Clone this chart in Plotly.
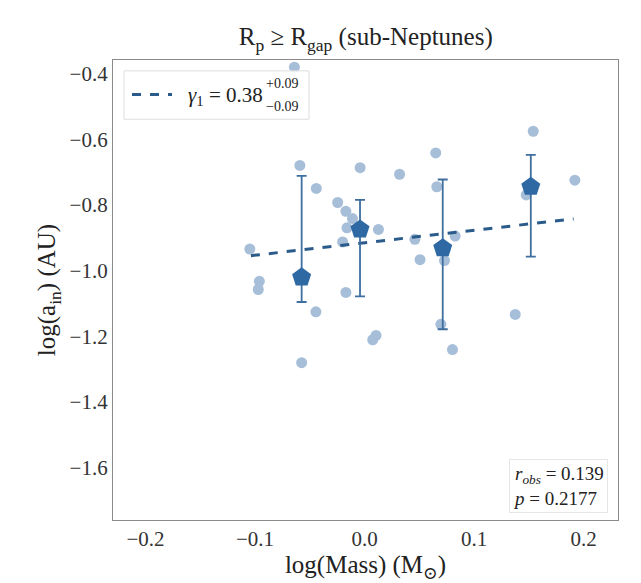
import plotly.graph_objects as go

# individual systems
mass_log = [-0.064, -0.059, -0.044, -0.0245, -0.017, -0.011, -0.016, -0.020, -0.004, 0.0127,
            0.032, 0.065, 0.066, 0.046, 0.0507, 0.0827, 0.073, 0.154, 0.192, 0.1476,
            -0.1047, -0.096, -0.097, -0.017, -0.0444, 0.1376, 0.0697, 0.0105, 0.0075, 0.0803,
            -0.0574]
ain_log = [-0.380, -0.679, -0.749, -0.792, -0.819, -0.841, -0.869, -0.912, -0.686, -0.874,
           -0.706, -0.641, -0.744, -0.904, -0.966, -0.894, -0.969, -0.575, -0.724, -0.769,
           -0.934, -1.032, -1.057, -1.066, -1.125, -1.133, -1.163, -1.197, -1.210, -1.240,
           -1.280]

# binned means
bin_x = [-0.0574, -0.0041, 0.0714, 0.1518]
bin_y = [-1.020, -0.874, -0.931, -0.744]
bin_err_plus = [0.309, 0.090, 0.209, 0.097]
bin_err_minus = [0.075, 0.204, 0.247, 0.213]

# fitted relation (gamma_1 = 0.38)
fit_x = [-0.1037, 0.1909]
fit_y = [-0.954, -0.842]

x_ticks = [-0.2, -0.1, 0.0, 0.1, 0.2]
y_ticks = [-1.6, -1.4, -1.2, -1.0, -0.8, -0.6, -0.4]

SERIF = "Liberation Serif, Times New Roman, DejaVu Serif, serif"
PT_COL = "#a7bed8"
BIN_COL = "#2f69a3"
ERR_COL = "#3e6f9f"
FIT_COL = "#2b5b8b"

fig = go.Figure()
fig.add_trace(go.Scatter(x=mass_log, y=ain_log, mode="markers",
                         marker=dict(size=11, color=PT_COL, line=dict(width=0)),
                         showlegend=False))
fig.add_trace(go.Scatter(x=fit_x, y=fit_y, mode="lines",
                         line=dict(color=FIT_COL, width=3, dash="dash"),
                         showlegend=False))
fig.add_trace(go.Scatter(x=bin_x, y=bin_y, mode="markers",
                         marker=dict(symbol="pentagon", size=20, color=BIN_COL, line=dict(width=0)),
                         error_y=dict(type="data", symmetric=False, array=bin_err_plus,
                                      arrayminus=bin_err_minus, color=ERR_COL,
                                      thickness=1.8, width=5),
                         showlegend=False))

fig.update_layout(
    width=641, height=583,
    margin=dict(l=113, r=23, t=60, b=57),
    paper_bgcolor="white", plot_bgcolor="white",
    font=dict(family=SERIF, size=20, color="#222"),
    title=dict(text="R<sub>p</sub> ≥ R<sub>gap</sub> (sub-Neptunes)",
               x=0.5706, xanchor="center", y=0.937, yanchor="middle",
               font=dict(family=SERIF, size=25, color="#222")),
    xaxis=dict(range=[-0.2296, 0.2314], tickvals=x_ticks, tickformat=".1f",
               showgrid=False, zeroline=False, showline=True, mirror=True,
               linecolor="#8a8a8a", linewidth=1.2, ticks="",
               tickfont=dict(family=SERIF, size=21, color="#333"),
               title=dict(text="log(Mass) (M<sub>⊙</sub>)", standoff=2,
                          font=dict(family=SERIF, size=25, color="#222"))),
    yaxis=dict(range=[-1.759, -0.358], tickvals=y_ticks, tickformat=".1f",
               showgrid=False, zeroline=False, showline=True, mirror=True,
               linecolor="#8a8a8a", linewidth=1.2, ticks="",
               tickfont=dict(family=SERIF, size=21, color="#333"),
               title=dict(text="log(a<sub>in</sub>) (AU)", standoff=6,
                          font=dict(family=SERIF, size=25, color="#222"))),
)

# legend box (drawn manually to allow stacked super/subscripts)
fig.add_shape(type="rect", xref="paper", yref="paper",
              x0=(124 - 113) / 505, x1=(309 - 113) / 505,
              y0=(526 - 120) / 466, y1=(526 - 71) / 466,
              line=dict(color="#dddddd", width=1), fillcolor="rgba(255,255,255,0.85)")
fig.add_shape(type="line", xref="paper", yref="paper",
              x0=(132 - 113) / 505, x1=(172 - 113) / 505,
              y0=(526 - 95) / 466, y1=(526 - 95) / 466,
              line=dict(color=FIT_COL, width=3, dash="dash"))
fig.add_annotation(xref="paper", yref="paper", x=(186 - 113) / 505, y=(526 - 96) / 466,
                   xanchor="left", yanchor="middle", showarrow=False,
                   text="<i>γ</i><sub>1</sub> = 0.38",
                   font=dict(family=SERIF, size=21, color="#222"))
fig.add_annotation(xref="paper", yref="paper", x=(264 - 113) / 505, y=(526 - 84) / 466,
                   xanchor="left", yanchor="middle", showarrow=False,
                   text="+0.09", font=dict(family=SERIF, size=14, color="#222"))
fig.add_annotation(xref="paper", yref="paper", x=(264 - 113) / 505, y=(526 - 107) / 466,
                   xanchor="left", yanchor="middle", showarrow=False,
                   text="−0.09", font=dict(family=SERIF, size=14, color="#222"))

# statistics box
fig.add_annotation(xref="paper", yref="paper", x=(608 - 113) / 505, y=(526 - 492) / 466,
                   xanchor="right", yanchor="middle", showarrow=False, align="left",
                   text="<i>r<sub>obs</sub></i> = 0.139<br><i>p</i> = 0.2177",
                   bordercolor="#e6e6e6", borderwidth=1, borderpad=3,
                   bgcolor="rgba(255,255,255,0.85)",
                   font=dict(family=SERIF, size=19, color="#222"))

fig.write_html("out.html")
